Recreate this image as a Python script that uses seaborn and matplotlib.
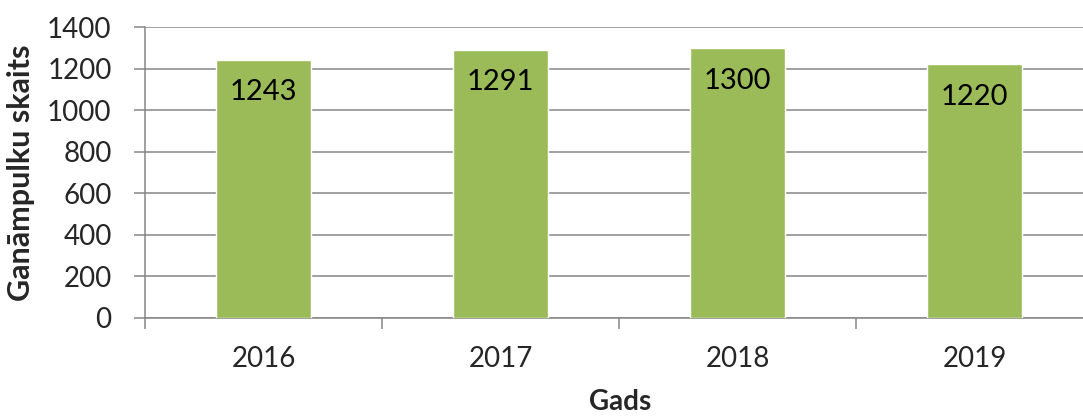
import matplotlib
matplotlib.use("Agg")
import matplotlib.pyplot as plt
import pandas as pd
import seaborn as sns
from matplotlib.ticker import FixedLocator

# data
years = ["2016", "2017", "2018", "2019"]
counts = [1243, 1291, 1300, 1220]

df = pd.DataFrame({"Gads": years, "skaits": counts})

sns.set_style("white")
plt.rcParams["font.family"] = ["Lato", "DejaVu Sans"]

fig = plt.figure(figsize=(10.83, 4.16), dpi=100)
# right edge runs past the figure like in the original
ax = fig.add_axes([145 / 1083, 98 / 416, 948 / 1083, 291 / 416])

sns.barplot(data=df, x="Gads", y="skaits", color="#9BBB59", width=0.40,
            saturation=1, ax=ax, zorder=3)

grid_c = "#868686"
ax.set_ylim(0, 1400)
ax.set_xlim(-0.5, 3.5)
ax.set_yticks(range(0, 1401, 200))
ax.yaxis.grid(True, color=grid_c, linewidth=1.1, zorder=0)
ax.set_axisbelow(True)

for s in ["top", "right"]:
    ax.spines[s].set_visible(False)
for s in ["left", "bottom"]:
    ax.spines[s].set_color(grid_c)
    ax.spines[s].set_linewidth(1.1)

ax.tick_params(axis="y", which="major", left=True, length=8, width=1.1,
               color=grid_c, direction="out", labelsize=20, pad=16)
ax.tick_params(axis="x", which="major", bottom=True, length=0,
               labelsize=20, pad=20)
ax.xaxis.set_minor_locator(FixedLocator([-0.5, 0.5, 1.5, 2.5, 3.5]))
ax.tick_params(axis="x", which="minor", bottom=True, length=8, width=1.1,
               color=grid_c, direction="out")

for i, v in enumerate(counts):
    ax.text(i, v - 95, str(v), ha="center", va="top", fontsize=21,
            color="black", zorder=4)

ax.set_ylabel("Ganāmpulku skaits", fontsize=22, fontweight="bold")
ax.yaxis.set_label_coords(-110 / 948, 0.5)
ax.set_xlabel("Gads", fontsize=20, fontweight="bold")
ax.xaxis.set_label_coords(475 / 948, -84 / 291)
ax.xaxis.label.set_va("center")

fig.savefig("out.png", dpi=100)
